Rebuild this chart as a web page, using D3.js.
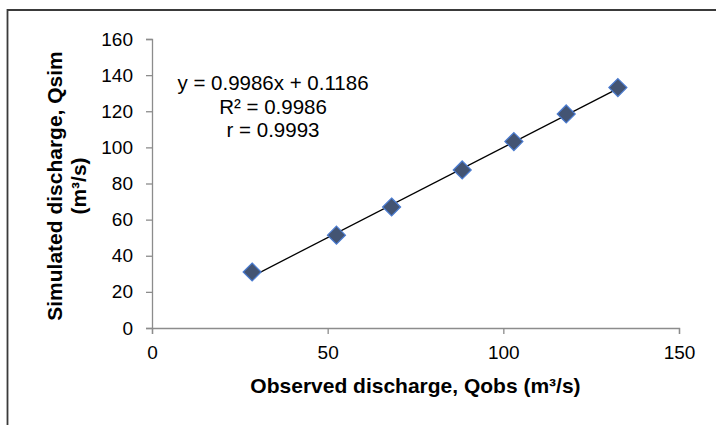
<!DOCTYPE html>
<html>
<head>
<meta charset="utf-8">
<script src="https://cdn.jsdelivr.net/npm/d3@7"></script>
<style>
  body { margin: 0; background: #fff; }
  svg { display: block; font-family: Arial, "Liberation Sans", sans-serif; }
</style>
</head>
<body>
<div id="chart"></div>
<script>
// observed vs simulated discharge (m3/s)
const observed = [28.5, 52.5, 68.2, 88.3, 103.0, 117.9, 132.6];
const simulated = [31.0, 51.4, 67.0, 87.5, 103.2, 118.5, 133.1];
// trendline y = a*x + b as printed on the chart
const trend = [0.9986, 0.1186];
const statLines = ["y = 0.9986x + 0.1186", "R² = 0.9986", "r = 0.9993"];
const xTicks = [0, 50, 100, 150];
const yTicks = [0, 20, 40, 60, 80, 100, 120, 140, 160];

const width = 716;
const height = 425;
const margin = { top: 39, right: 37, bottom: 97, left: 152 };

const svg = d3.select("#chart")
    .append("svg")
    .attr("width", width)
    .attr("height", height);

// chart frame (only top and left edges are in view)
svg.append("path")
    .attr("d", `M7.5,${height} L7.5,10 L${width},10`)
    .attr("fill", "none")
    .attr("stroke", "#3a3a3a")
    .attr("stroke-width", 1.8);

const x = d3.scaleLinear()
    .domain([0, 150])
    .range([margin.left, width - margin.right]);

const y = d3.scaleLinear()
    .domain([0, 160])
    .range([height - margin.bottom, margin.top]);

// x axis
const xAxis = svg.append("g")
    .attr("transform", `translate(0,${y(0)})`)
    .call(d3.axisBottom(x).tickValues(xTicks).tickSize(6).tickPadding(12));
xAxis.selectAll("text").style("font-size", "19px").attr("fill", "#000");

// y axis
const yAxis = svg.append("g")
    .attr("transform", `translate(${x(0)},0)`)
    .call(d3.axisLeft(y).tickValues(yTicks).tickSize(6).tickPadding(13));
yAxis.selectAll("text").style("font-size", "19px").attr("fill", "#000");

[xAxis, yAxis].forEach(g => {
    g.select(".domain").attr("stroke", "#8c8c8c").attr("stroke-width", 1.3);
    g.selectAll(".tick line").attr("stroke", "#8c8c8c").attr("stroke-width", 1.3);
});

// linear trendline over the observed range
const x0 = d3.min(observed), x1 = d3.max(observed);
svg.append("line")
    .attr("x1", x(x0))
    .attr("y1", y(trend[0] * x0 + trend[1]))
    .attr("x2", x(x1))
    .attr("y2", y(trend[0] * x1 + trend[1]))
    .attr("stroke", "#000")
    .attr("stroke-width", 1.3);

// diamond markers
const data = observed.map((o, i) => ({ o, s: simulated[i] }));
svg.selectAll(".pt")
    .data(data)
    .enter()
    .append("path")
    .attr("class", "pt")
    .attr("transform", d => `translate(${x(d.o)},${y(d.s)})`)
    .attr("d", "M0,-9 L9,0 L0,9 L-9,0 Z")
    .attr("fill", "#435473")
    .attr("stroke", "#4a7bd0")
    .attr("stroke-width", 1.2);

// regression stats
svg.append("g")
    .selectAll("text")
    .data(statLines)
    .enter()
    .append("text")
    .attr("x", 273)
    .attr("y", (d, i) => 90 + i * 23.5)
    .attr("text-anchor", "middle")
    .style("font-size", "20.5px")
    .text(d => d);

// axis titles
svg.append("text")
    .attr("x", (x(0) + x(150)) / 2)
    .attr("y", 393)
    .attr("text-anchor", "middle")
    .style("font-size", "21px")
    .style("font-weight", "bold")
    .text("Observed discharge, Qobs (m³/s)");

const yTitle = svg.append("text")
    .attr("transform", `translate(0,186) rotate(-90)`)
    .attr("text-anchor", "middle")
    .style("font-size", "21px")
    .style("font-weight", "bold");
yTitle.append("tspan").attr("x", 0).attr("y", 62).text("Simulated discharge, Qsim");
yTitle.append("tspan").attr("x", 0).attr("y", 86).text("(m³/s)");
</script>
</body>
</html>
